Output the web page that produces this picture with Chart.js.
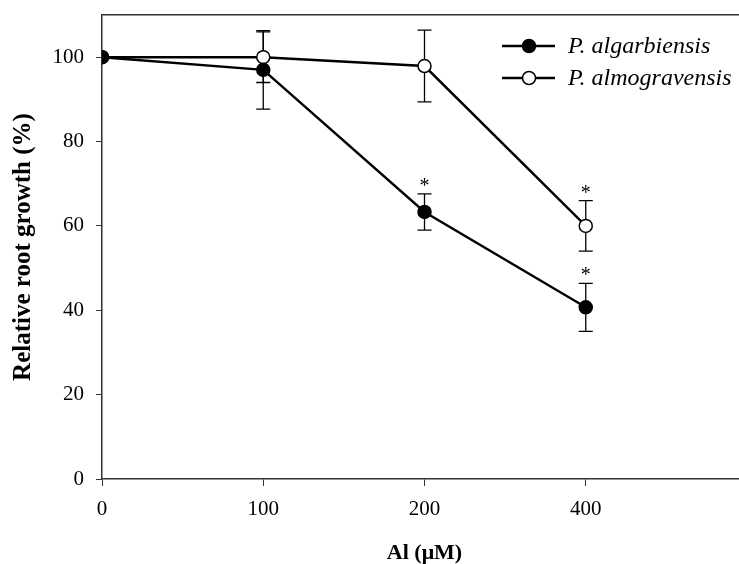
<!DOCTYPE html>
<html>
<head>
<meta charset="utf-8">
<script src="https://cdn.jsdelivr.net/npm/chart.js@4/dist/chart.umd.min.js"></script>
<style>
  html, body { margin: 0; background: #fff; overflow: hidden; }
  /* plot frame runs past the right edge of the figure, as in the source image */
  #wrap { width: 755px; height: 564px; }
</style>
</head>
<body>
<div id="wrap"><canvas id="rootChart"></canvas></div>
<script>
// Al concentrations (uM), plotted at evenly spaced positions
const doses = ["0", "100", "200", "400"];

const algarbiensis = [100, 97.0, 63.3, 40.7];
const algarbiensisErr = [0, 9.3, 4.3, 5.7];
const algarbiensisSig = [false, false, true, true];

const almogravensis = [100, 100, 97.9, 60.0];
const almogravensisErr = [0, 6.0, 8.5, 6.0];
const almogravensisSig = [false, false, false, true];

const serif = "'Liberation Serif', 'Times New Roman', serif";
const axisColor = "#333";

const toPoints = (vals) => vals.map((v, i) => ({ x: i, y: v }));

// error bars + significance stars, drawn under the markers
const errorBars = {
  id: "errorBars",
  beforeDatasetsDraw(chart) {
    const { ctx, scales: { x, y } } = chart;
    const sets = [
      [algarbiensis, algarbiensisErr, algarbiensisSig],
      [almogravensis, almogravensisErr, almogravensisSig],
    ];
    ctx.save();
    ctx.strokeStyle = "#000";
    ctx.lineWidth = 1.3;
    ctx.fillStyle = "#000";
    ctx.font = "20px " + serif;
    ctx.textAlign = "center";
    ctx.textBaseline = "alphabetic";
    sets.forEach(([vals, errs, sig]) => {
      vals.forEach((v, i) => {
        const px = x.getPixelForValue(i);
        const top = y.getPixelForValue(v + errs[i]);
        const bot = y.getPixelForValue(v - errs[i]);
        if (errs[i] > 0) {
          ctx.beginPath();
          ctx.moveTo(px, top);
          ctx.lineTo(px, bot);
          ctx.moveTo(px - 7, top);
          ctx.lineTo(px + 7, top);
          ctx.moveTo(px - 7, bot);
          ctx.lineTo(px + 7, bot);
          ctx.stroke();
        }
        if (sig[i]) ctx.fillText("*", px, top - 2);
      });
    });
    ctx.restore();
  },
};

// legend with a short line through the marker, like the original figure
const lineLegend = {
  id: "lineLegend",
  afterDraw(chart) {
    const { ctx } = chart;
    const rows = [
      { label: "P. algarbiensis", fill: "#000", y: 46 },
      { label: "P. almogravensis", fill: "#fff", y: 78 },
    ];
    ctx.save();
    rows.forEach((r) => {
      ctx.strokeStyle = "#000";
      ctx.lineWidth = 2.4;
      ctx.beginPath();
      ctx.moveTo(502, r.y);
      ctx.lineTo(555, r.y);
      ctx.stroke();
      ctx.beginPath();
      ctx.arc(529, r.y, 6.5, 0, Math.PI * 2);
      ctx.fillStyle = r.fill;
      ctx.fill();
      ctx.lineWidth = 1.5;
      ctx.stroke();
      ctx.fillStyle = "#000";
      ctx.font = "italic 24px " + serif;
      ctx.textAlign = "left";
      ctx.textBaseline = "middle";
      ctx.fillText(r.label, 568, r.y + 1);
    });
    ctx.restore();
  },
};

new Chart(document.getElementById("rootChart"), {
  type: "line",
  data: {
    datasets: [
      {
        label: "P. algarbiensis",
        data: toPoints(algarbiensis),
        borderColor: "#000",
        borderWidth: 2.4,
        pointRadius: 6.5,
        pointBackgroundColor: "#000",
        pointBorderColor: "#000",
        pointBorderWidth: 1.5,
      },
      {
        label: "P. almogravensis",
        data: toPoints(almogravensis),
        borderColor: "#000",
        borderWidth: 2.4,
        pointRadius: 6.5,
        pointBackgroundColor: "#fff",
        pointBorderColor: "#000",
        pointBorderWidth: 1.5,
      },
    ],
  },
  options: {
    responsive: true,
    maintainAspectRatio: false,
    animation: false,
    layout: { padding: { left: 0, right: 0, top: 15, bottom: 0 } },
    plugins: {
      legend: { display: false },
      tooltip: { enabled: false },
    },
    scales: {
      x: {
        type: "linear",
        min: 0,
        max: 4,
        afterFit(scale) {
          scale.height = 85;
          scale.paddingLeft = 0;
          scale.paddingRight = 0;
        },
        border: { display: true, color: axisColor, width: 1.5 },
        grid: { drawOnChartArea: false, tickLength: 7, tickColor: axisColor },
        ticks: {
          stepSize: 1,
          includeBounds: false,
          padding: 11,
          color: "#000",
          font: { family: serif, size: 21 },
          callback: (v) => doses[v] ?? "",
        },
        title: {
          display: true,
          text: "Al (\u03bcM)",
          color: "#000",
          font: { family: serif, size: 22, weight: "bold", lineHeight: 1 },
          padding: { top: 0, bottom: 0 },
        },
      },
      top: {
        type: "linear",
        position: "top",
        min: 0,
        max: 4,
        afterFit(scale) {
          scale.height = 0;
          scale.paddingLeft = 0;
          scale.paddingRight = 0;
        },
        border: { display: true, color: axisColor, width: 1.5 },
        grid: { display: false },
        ticks: { display: false },
      },
      y: {
        min: 0,
        max: 110,
        afterFit(scale) {
          scale.width = 102;
          scale.paddingTop = 0;
          scale.paddingBottom = 0;
        },
        border: { display: true, color: axisColor, width: 1.5 },
        grid: { drawOnChartArea: false, tickLength: 6, tickColor: axisColor },
        ticks: {
          stepSize: 20,
          includeBounds: false,
          padding: 12,
          color: "#000",
          font: { family: serif, size: 21 },
        },
        title: {
          display: true,
          text: "Relative root growth (%)",
          color: "#000",
          font: { family: serif, size: 25, weight: "bold" },
          padding: { top: 9, bottom: 0 },
        },
      },
    },
  },
  plugins: [errorBars, lineLegend],
});
</script>
</body>
</html>
